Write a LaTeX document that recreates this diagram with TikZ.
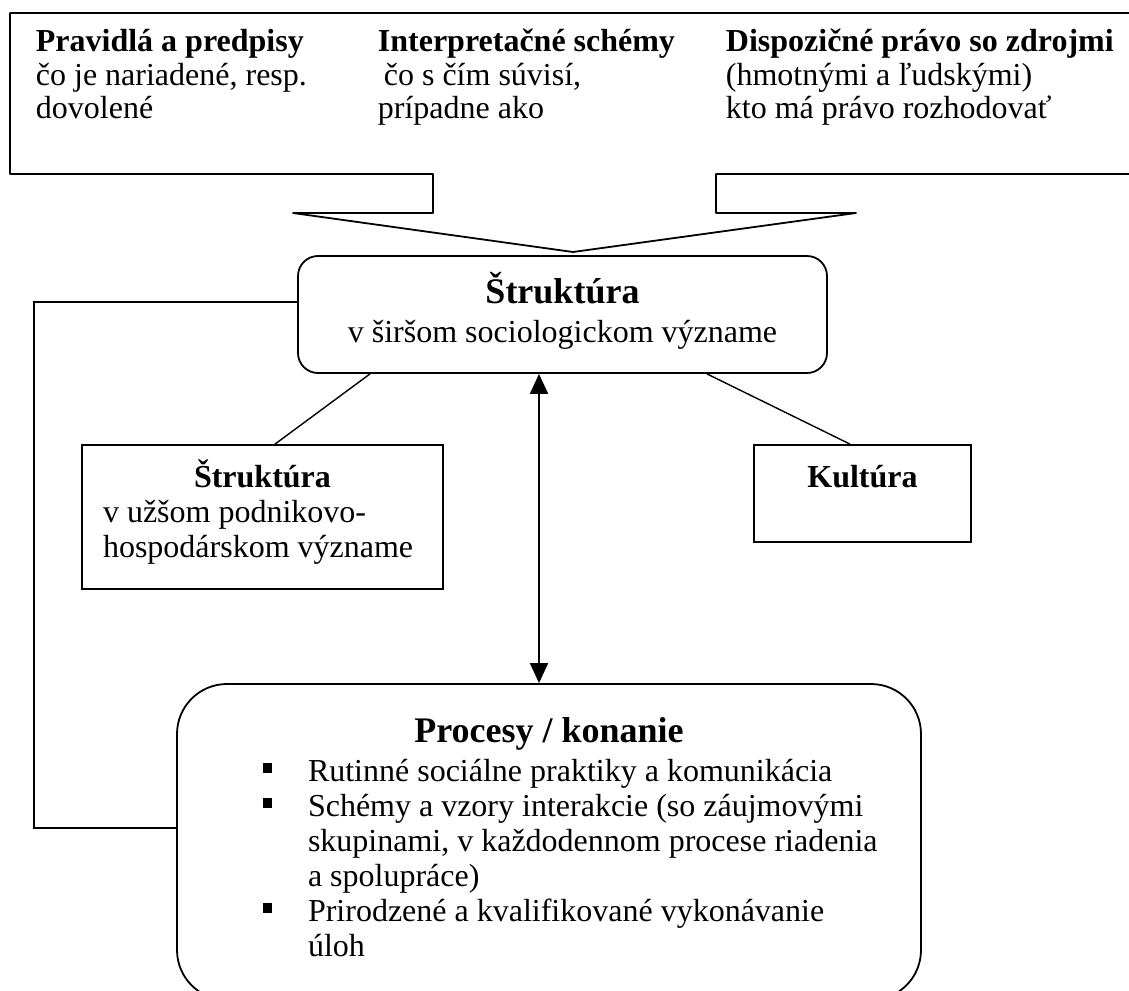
\documentclass[tikz,border=0pt]{standalone}
\usepackage{fontspec}
\setmainfont{Liberation Serif}
\usetikzlibrary{arrows.meta,positioning,calc}

\newcommand{\procbul}{\hspace*{24.75pt}\makebox[22.75pt][l]{\rule[4.25pt]{4.75pt}{4.75pt}}}
\newcommand{\procind}{\hspace*{47.5pt}}

\begin{document}
\begin{tikzpicture}[x=0.5pt,y=-0.5pt,
  font=\fontsize{16}{17.5}\selectfont,
  line width=0.9pt,
  col/.style={anchor=base west,inner sep=0pt,align=flush left,font=\fontsize{16}{16.75}\selectfont},
  box/.style={draw,rectangle,inner ysep=0pt,anchor=base},
  rbox/.style={box,rounded corners=#1},
  link/.style={line width=0.7pt},
  dbl/.style={line width=1pt,{Triangle[length=10pt,width=9pt]}-{Triangle[length=10pt,width=9pt]}},
]
  \path[use as bounding box,clip] (0,0) rectangle (1129,990);

  % top callout
  \draw[line join=round] (1140,13) -- (10,13) -- (10,174) -- (433,174) -- (433,213) -- (293,213)
    -- (573,252) -- (856,213) -- (716,213) -- (716,174) -- (1140,174);
  \foreach \i/\x/\w/\head/\body in {1/35/165pt/{Pravidlá a predpisy}/{čo je nariadené, resp.\\dovolené},
      2/377/165pt/{Interpretačné schémy}/{\hspace*{3pt}čo s čím súvisí,\\prípadne ako},
      3/725/200pt/{Dispozičné právo so zdrojmi}/{(hmotnými a ľudskými)\\kto má právo rozhodovať}} {
    \node[col,text width=\w] (col\i) at (\x,52) {\textbf{\head}\\\body};
  }

  \node[rbox=10pt,text width=264.5pt,inner xsep=0pt,align=flush center,text height=23.5pt,text depth=35pt]
    (sirsia) at (562.5,303) {{\fontsize{18}{19.5}\selectfont\bfseries Štruktúra}\\[2pt]v širšom sociologickom význame};
  \node[box,text width=159.5pt,inner xsep=10.5pt,align=flush left,text height=21pt,text depth=51pt]
    (uzsia) at (262.5,487) {\centerline{\bfseries Štruktúra}\par v užšom podnikovo-\\hospodárskom význame};
  \node[box,minimum width=108.5pt,inner xsep=0pt,text height=21pt,text depth=27.5pt]
    (kultura) at (862.5,487) {\textbf{Kultúra}};
  \node[rbox=25pt,text width=336pt,inner xsep=18pt,align=flush left,text height=29pt,text depth=129pt]
    (proc) at (549,742) {\centerline{\fontsize{18}{20}\selectfont\bfseries Procesy / konanie}\par\vspace{2pt}
      \procbul Rutinné sociálne praktiky a komunikácia\\
      \procbul Schémy a vzory interakcie (so záujmovými\\
      \procind skupinami, v každodennom procese riadenia\\
      \procind a spolupráce)\\
      \procbul Prirodzené a kvalifikované vykonávanie\\
      \procind úloh};

  \coordinate (arr) at (539,0);
  \coordinate (fb1) at (34,302);
  \coordinate (fb2) at (34,828);

  \draw[link] ([xshift=-96.25pt]sirsia.south) -- ([xshift=6.25pt]uzsia.north);
  \draw[link] ([xshift=72.25pt]sirsia.south) -- ([xshift=-6.25pt]kultura.north);
  \draw[dbl] (sirsia.south -| arr) -- (proc.north -| arr);
  \draw (sirsia.west |- fb1) -- (fb1) -- (fb2) -- (proc.west |- fb2);
\end{tikzpicture}
\end{document}
